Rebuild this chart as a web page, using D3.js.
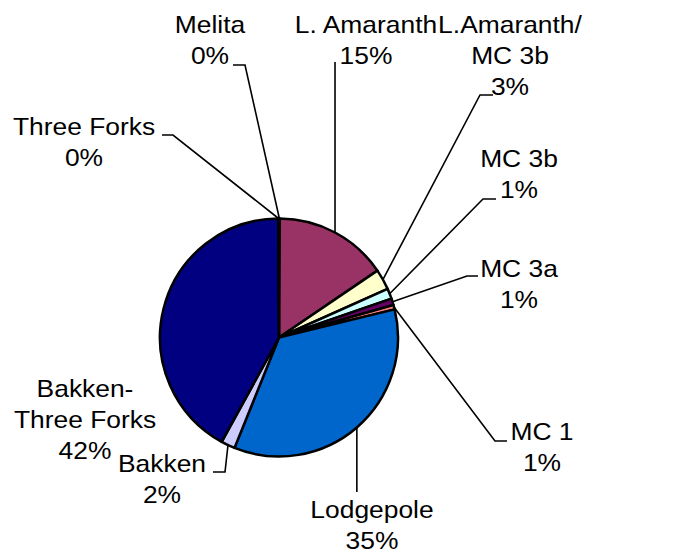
<!DOCTYPE html>
<html>
<head>
<meta charset="utf-8">
<script src="https://cdn.jsdelivr.net/npm/d3@7"></script>
<style>
  body { margin: 0; background: #fff; }
  text { font-family: "Liberation Sans", Arial, sans-serif; font-size: 24px; fill: #000; }
</style>
</head>
<body>
<svg id="chart" width="677" height="553"></svg>
<script>
// data
var categories = ["Melita", "L. Amaranth", "L.Amaranth/MC 3b", "MC 3b", "MC 3a", "MC 1",
                  "Lodgepole", "Bakken", "Bakken-Three Forks", "Three Forks"];
var shares = [0.1, 15.4, 2.8, 1.4, 0.9, 0.6, 34.9, 1.9, 41.9, 0.1];
var labelNames = [["Melita"], ["L. Amaranth"], ["L.Amaranth/", "MC 3b"], ["MC 3b"], ["MC 3a"], ["MC 1"],
                  ["Lodgepole"], ["Bakken"], ["Bakken-", "Three Forks"], ["Three Forks"]];
var colors = ["#9999FF", "#993366", "#FFFFCC", "#CCFFFF", "#660066", "#FF8080",
              "#0066CC", "#CCCCFF", "#000080", "#FF00FF"];

// layout: label centre + first baseline, leader end point and short tail
var labelPos = [[210, 33], [366, 33], [510, 33], [519, 167], [519, 277], [542, 440],
                [372, 518], [162, 472], [85, 397], [84, 135]];
var leaders = [
  {to: [245, 65], tail: 233},
  {to: [null, 62], tail: null},
  {to: [480, 95], tail: 493},
  {to: [483, 199], tail: 496},
  {to: [467, 276], tail: 478},
  {to: [495, 441], tail: 507},
  {to: [null, 492], tail: null},
  {to: [225, 472], tail: 213},
  null,
  {to: [173, 135], tail: 162}
];

var cx = 279, cy = 337.5, r = 119;
var svg = d3.select("#chart");

var pie = d3.pie().sort(null).value(function(d) { return d; });
var arcs = pie(shares);
var arc = d3.arc().innerRadius(0).outerRadius(r);

var g = svg.append("g").attr("transform", "translate(" + cx + "," + cy + ")");
g.selectAll("path")
  .data(arcs)
  .enter().append("path")
  .attr("d", arc)
  .attr("fill", function(d, i) { return colors[i]; })
  .attr("stroke", "#000")
  .attr("stroke-width", 2.5)
  .attr("stroke-linejoin", "round");

// leader lines
arcs.forEach(function(a, i) {
  var l = leaders[i];
  if (!l) return;
  var mid = (a.startAngle + a.endAngle) / 2;
  var px = cx + r * Math.sin(mid), py = cy - r * Math.cos(mid);
  var ex = l.to[0] === null ? px : l.to[0];
  var pts = [[px, py], [ex, l.to[1]]];
  if (l.tail !== null) pts.push([l.tail, l.to[1]]);
  svg.append("path")
    .attr("d", d3.line()(pts))
    .attr("fill", "none")
    .attr("stroke", "#000")
    .attr("stroke-width", 1.6);
});

// labels
categories.forEach(function(c, i) {
  var lines = labelNames[i].concat([Math.round(shares[i]) + "%"]);
  var t = svg.append("g")
    .attr("transform", "translate(" + labelPos[i][0] + "," + labelPos[i][1] + ") scale(1.1,1)");
  lines.forEach(function(s, k) {
    t.append("text")
      .attr("x", 0)
      .attr("y", k * 31)
      .attr("text-anchor", "middle")
      .text(s);
  });
});
</script>
</body>
</html>
